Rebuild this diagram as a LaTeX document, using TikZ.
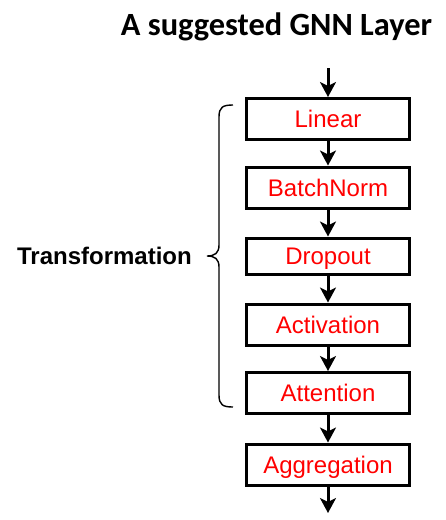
\documentclass[tikz,border=0pt]{standalone}
\usepackage{fontspec}
\newfontfamily\arialfont{Liberation Sans}
\newfontfamily\titlefont{Carlito}
\usetikzlibrary{arrows.meta}
\begin{document}
\begin{tikzpicture}[x=1pt,y=-1pt,
  layerbox/.style={draw=black,line width=3pt,minimum width=163pt,minimum height=41pt,inner sep=0pt,
    text height=17.2pt,text depth=0pt,
    text=red,font=\arialfont\fontsize{24}{28}\selectfont},
  flow/.style={line width=3pt,-{Stealth[length=15pt,width=16pt,inset=4pt]}}]
\useasboundingbox (0,0) rectangle (446,520);
\node[font=\titlefont\bfseries\fontsize{32.4}{36}\selectfont] (title) at (276.5,27) {A suggested GNN Layer};
\coordinate (in) at (328,68);
\node[layerbox] (lin) at (328,119) {Linear};
\node[layerbox] (bn) at (328,187.5) {BatchNorm};
\node[layerbox,minimum height=36pt] (drop) at (328,256) {Dropout};
\node[layerbox] (act) at (328,324.5) {Activation};
\node[layerbox] (att) at (328,393) {Attention};
\node[layerbox] (agg) at (328,464.5) {Aggregation};
\coordinate (out) at (328,513);
\draw[flow] (in) -- (lin.north);
\draw[flow] (lin) -- (bn);
\draw[flow] (bn) -- (drop);
\draw[flow] (drop) -- (act);
\draw[flow] (act) -- (att);
\draw[flow] (att) -- (agg);
\draw[flow] (agg.south) -- (out);
\draw[line width=1.4pt] (233,105) .. controls (223,105) and (219,107) .. (219,117) -- (219,245)
  .. controls (219,253) and (215,256) .. (207,256)
  .. controls (215,256) and (219,259) .. (219,267) -- (219,395)
  .. controls (219,405) and (223,407) .. (233,407);
\node[font=\arialfont\bfseries\fontsize{24}{28}\selectfont,anchor=east,text height=17.2pt,text depth=0pt,inner sep=0pt] (tr) at (192,256) {Transformation};
\end{tikzpicture}
\end{document}
